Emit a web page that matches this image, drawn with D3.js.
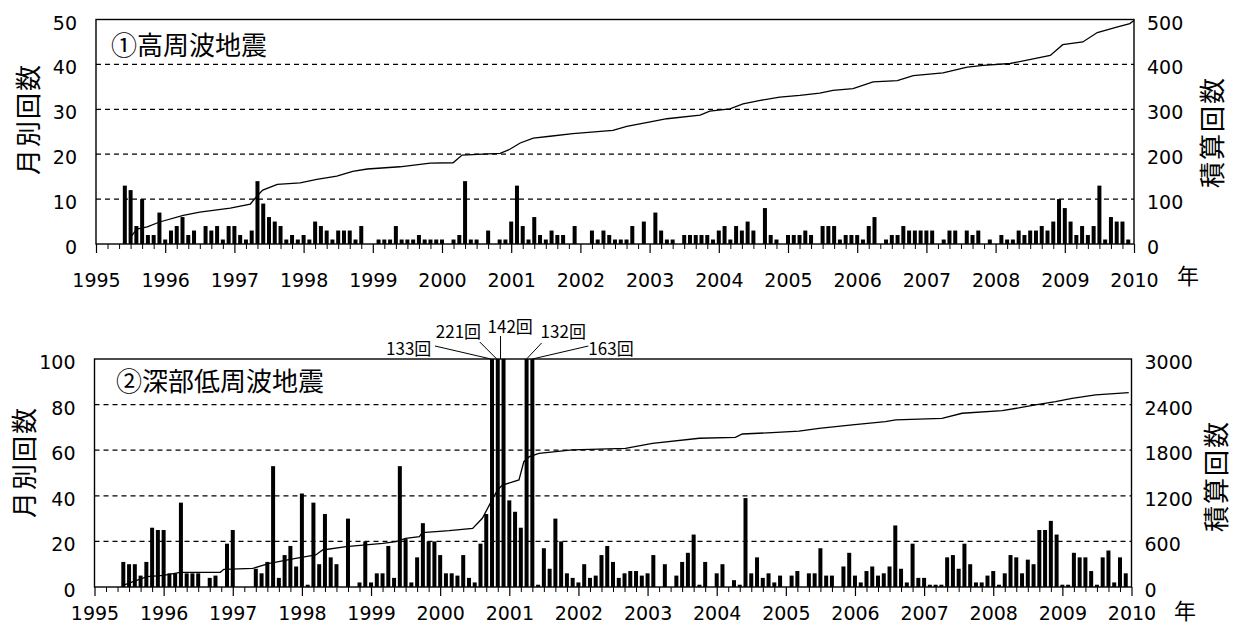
<!DOCTYPE html>
<html>
<head>
<meta charset="utf-8">
<script src="https://cdn.jsdelivr.net/npm/d3@7"></script>
<style>
body{margin:0;background:#fff}
svg text{font-family:"DejaVu Sans","Noto Sans CJK JP",sans-serif;fill:#000}
svg .jp{font-family:"Noto Sans CJK JP",sans-serif}
</style>
</head>
<body>
<svg id="chart" width="1235" height="633"></svg>
<script>
// x axis year labels
const yearTicks = [1995,1996,1997,1998,1999,2000,2001,2002,2003,2004,2005,2006,2007,2008,2009,2010]

// ① high-frequency earthquakes, monthly counts from Jan 1995 (one row per year)
const hfCount = [
	0,0,0,0,0,13,12,4,10,2,2,7,
	1,3,4,6,2,3,0,4,3,4,1,4,
	4,2,1,3,14,9,6,5,4,1,2,1,
	2,1,5,4,3,1,3,3,3,1,4,0,
	0,1,1,1,4,1,1,1,2,1,1,1,
	1,0,1,2,14,1,1,0,3,0,1,1,
	5,13,4,1,6,2,1,3,2,2,0,4,
	0,0,3,1,3,2,1,1,1,4,0,5,
	0,7,3,1,1,0,2,2,2,2,2,1,
	3,4,1,4,3,5,3,0,8,2,1,0,
	2,2,2,3,2,0,4,4,4,1,2,2,
	2,1,4,6,0,1,2,2,4,3,3,3,
	3,3,0,1,3,3,0,3,2,3,0,1,
	0,2,1,1,3,2,3,3,4,3,5,10,
	8,5,2,4,2,4,13,1,6,5,5,1
]
// cumulative count: [decimal year, total]
const hfCumulative = [
	[1995.49,13],[1995.59,33],[1995.74,38],[1995.92,49],[1996.26,64],[1996.50,71],[1996.94,80],
	[1997.23,89],[1997.34,109],[1997.41,120],[1997.62,133],[1997.95,136],[1998.19,144],[1998.48,151],
	[1998.71,162],[1998.92,167],[1999.39,172],[1999.83,180],[2000.16,181],[2000.29,198],[2000.59,200],
	[2000.84,202],[2000.98,211],[2001.13,225],[2001.32,236],[2001.56,240],[2001.89,246],[2002.47,253],
	[2002.67,262],[2003.01,272],[2003.25,279],[2003.73,287],[2003.87,296],[2004.16,301],[2004.35,312],
	[2004.60,320],[2004.88,327],[2005.17,331],[2005.46,336],[2005.65,342],[2005.94,346],[2006.23,361],
	[2006.58,364],[2006.81,375],[2007.24,381],[2007.59,394],[2007.82,398],[2008.21,402],[2008.79,420],
	[2008.97,444],[2009.26,450],[2009.47,471],[2009.75,483],[2009.94,491],[2010.0,498]
]
const hfLeftTicks = [0,10,20,30,40,50]
const hfRightTicks = [0,100,200,300,400,500]

// ② deep low-frequency earthquakes, monthly counts from Jan 1995
const dlfCount = [
	0,0,0,0,0,11,10,10,5,11,26,25,
	25,6,6,37,6,6,6,0,4,5,0,19,
	25,0,0,0,8,6,11,53,4,14,18,9,
	41,1,37,10,32,13,10,0,30,0,2,20,
	2,6,6,18,4,53,21,2,13,28,20,20,
	14,6,6,5,14,4,2,19,32,133,221,142,
	38,33,26,132,163,1,17,8,30,20,6,4,
	2,10,4,5,14,18,11,4,6,7,7,5,
	6,14,0,10,0,5,11,15,23,1,11,0,
	6,10,0,3,1,39,6,13,4,6,2,5,
	0,5,7,0,6,6,17,5,5,0,9,15,
	5,2,7,9,5,6,9,27,8,2,19,4,
	4,1,1,1,13,14,8,19,10,2,2,5,
	7,1,6,14,13,6,12,10,25,25,29,23,
	1,1,15,13,13,7,1,13,16,2,13,6
]
const dlfCumulative = [
	[1995.40,17],[1995.76,136],[1996.0,154],[1996.24,193],[1996.82,193],[1996.87,233],[1997.29,246],
	[1997.53,311],[1997.91,377],[1998.20,421],[1998.30,487],[1998.64,531],[1999.17,575],[1999.36,597],
	[1999.50,640],[1999.70,662],[1999.74,715],[1999.94,728],[2000.13,741],[2000.47,772],[2000.61,904],
	[2000.73,1110],[2000.83,1277],[2000.90,1342],[2001.14,1408],[2001.21,1649],[2001.29,1715],
	[2001.43,1759],[2001.91,1803],[2002.68,1825],[2003.07,1891],[2003.75,1957],[2004.27,1970],
	[2004.37,2013],[2004.80,2031],[2005.19,2050],[2005.48,2088],[2005.96,2132],[2006.44,2176],
	[2006.59,2198],[2007.26,2220],[2007.55,2286],[2008.13,2320],[2008.61,2395],[2008.90,2439],
	[2009.14,2483],[2009.48,2527],[2009.96,2557]
]
const dlfLeftTicks = [0,20,40,60,80,100]
const dlfRightTicks = [0,600,1200,1800,2400,3000]

const svg = d3.select("#chart")

function drawPanel(p){
	const g = svg.append("g")
	const x = d3.scaleLinear().domain([1995,2010]).range([p.x0,p.x1])
	const y = d3.scaleLinear().domain([0,d3.max(p.leftTicks)]).range([p.bottom,p.top])
	const yr = d3.scaleLinear().domain([0,d3.max(p.rightTicks)]).range([p.bottom,p.top])
	const ymax = d3.max(p.leftTicks)

	// dashed grid
	g.selectAll(".grid").data(p.leftTicks.slice(1,-1))
	.enter().append("line")
		.attr("x1",p.x0).attr("x2",p.x1)
		.attr("y1",function(d){return y(d)}).attr("y2",function(d){return y(d)})
		.attr("stroke","#000").attr("stroke-width",1.2).attr("stroke-dasharray","5,4")

	// monthly bars, centred on the first of the month (clipped at the top of the panel)
	const bw = 4
	const months = p.counts.map(function(v,i){return {t:1995+i/12, v:v}}).filter(function(d){return d.v>0})
	g.selectAll(".bar").data(months)
	.enter().append("rect")
		.attr("x",function(d){return x(d.t)-bw/2})
		.attr("width",bw)
		.attr("y",function(d){return y(Math.min(d.v,ymax))})
		.attr("height",function(d){return p.bottom-y(Math.min(d.v,ymax))})
		.attr("fill","#000")

	// cumulative line
	g.append("path").datum(p.cumulative)
		.attr("d",d3.line().x(function(d){return x(d[0])}).y(function(d){return yr(d[1])}))
		.attr("fill","none").attr("stroke","#000").attr("stroke-width",1.3)

	// x ticks
	const minor = d3.range(0,181,2).filter(function(m){return m%12!=0}).map(function(m){return 1995+m/12})
	g.append("g").attr("transform","translate(0,"+p.bottom+")")
		.call(d3.axisBottom(x).tickValues(minor).tickSize(5).tickFormat(""))
		.call(function(a){a.select(".domain").remove()})
	g.append("g").attr("transform","translate(0,"+p.bottom+")")
		.call(d3.axisBottom(x).tickValues(yearTicks).tickSize(9).tickPadding(p.labelPad).tickFormat(d3.format("d")))
		.call(function(a){
			a.select(".domain").remove()
			a.selectAll("line").attr("stroke-width",1.2)
			a.selectAll("text").attr("font-size",19).attr("fill","#000")
				.style("font-family","'DejaVu Sans',sans-serif")
		})

	// frame
	g.append("rect").attr("x",p.x0).attr("y",p.top).attr("width",p.x1-p.x0).attr("height",p.bottom-p.top)
		.attr("fill","none").attr("stroke","#000").attr("stroke-width",1.4)

	// y tick labels
	g.selectAll(".yl").data(p.leftTicks)
	.enter().append("text")
		.attr("x",p.x0-19).attr("y",function(d){return y(d)+3})
		.attr("text-anchor","end").attr("dominant-baseline","central").attr("font-size",19)
		.text(function(d){return d})
	g.selectAll(".yr").data(p.rightTicks)
	.enter().append("text")
		.attr("x",p.x1+13).attr("y",function(d){return yr(d)+3})
		.attr("text-anchor","start").attr("dominant-baseline","central").attr("font-size",19)
		.text(function(d){return d})

	// titles
	g.append("text").attr("class","jp").attr("x",p.titleX).attr("y",p.titleY)
		.attr("font-size",26).text(p.title)
	g.append("text").attr("class","jp")
		.attr("transform","translate("+p.leftTitleX+","+p.leftTitleY+") rotate(-90)")
		.attr("text-anchor","middle").attr("dominant-baseline","central")
		.attr("font-size",26).attr("letter-spacing",2).text("月別回数")
	g.append("text").attr("class","jp")
		.attr("transform","translate("+p.rightTitleX+","+p.rightTitleY+") rotate(-90)")
		.attr("text-anchor","middle").attr("dominant-baseline","central")
		.attr("font-size",26).attr("letter-spacing",2).text("積算回数")
	g.append("text").attr("class","jp").attr("x",p.yearX).attr("y",p.yearY)
		.attr("text-anchor","middle").attr("dominant-baseline","central")
		.attr("font-size",22).text("年")

	return {x:x, y:y, g:g}
}

drawPanel({
	x0:96, x1:1134, top:19.5, bottom:244,
	counts:hfCount, cumulative:hfCumulative,
	leftTicks:hfLeftTicks, rightTicks:hfRightTicks,
	labelPad:21,
	title:"①高周波地震", titleX:111, titleY:55,
	leftTitleX:26, leftTitleY:119, rightTitleX:1210, rightTitleY:132,
	yearX:1188, yearY:274
})

const bottomPanel = drawPanel({
	x0:94.5, x1:1131.5, top:359, bottom:587,
	counts:dlfCount, cumulative:dlfCumulative,
	leftTicks:dlfLeftTicks, rightTicks:dlfRightTicks,
	labelPad:11,
	title:"②深部低周波地震", titleX:116, titleY:391,
	leftTitleX:22, leftTitleY:462, rightTitleX:1214, rightTitleY:476,
	yearX:1185, yearY:609
})

// labels for the bars that run off the top of panel ②
const over = dlfCount.map(function(v,i){return {t:1995+i/12, v:v}}).filter(function(d){return d.v>100})
// text start dx, baseline y, leader start dx, leader start y, leader end dx
const overLayout = [
	[-106,355,-57,346,-1],
	[-62,338,-18,342,-1],
	[-16,333,-3,336,-3],
	[14,338,15,343,0],
	[56,355,56,346,0]
]
const ax = bottomPanel.x
over.forEach(function(d,i){
	const L = overLayout[i]
	const bx = ax(d.t)
	bottomPanel.g.append("line")
		.attr("x1",bx+L[2]).attr("y1",L[3]).attr("x2",bx+L[4]).attr("y2",359)
		.attr("stroke","#000").attr("stroke-width",1)
	bottomPanel.g.append("text").attr("class","jp")
		.attr("x",bx+L[0]).attr("y",L[1]).attr("font-size",17)
		.text(d.v+"回")
})
</script>
</body>
</html>
